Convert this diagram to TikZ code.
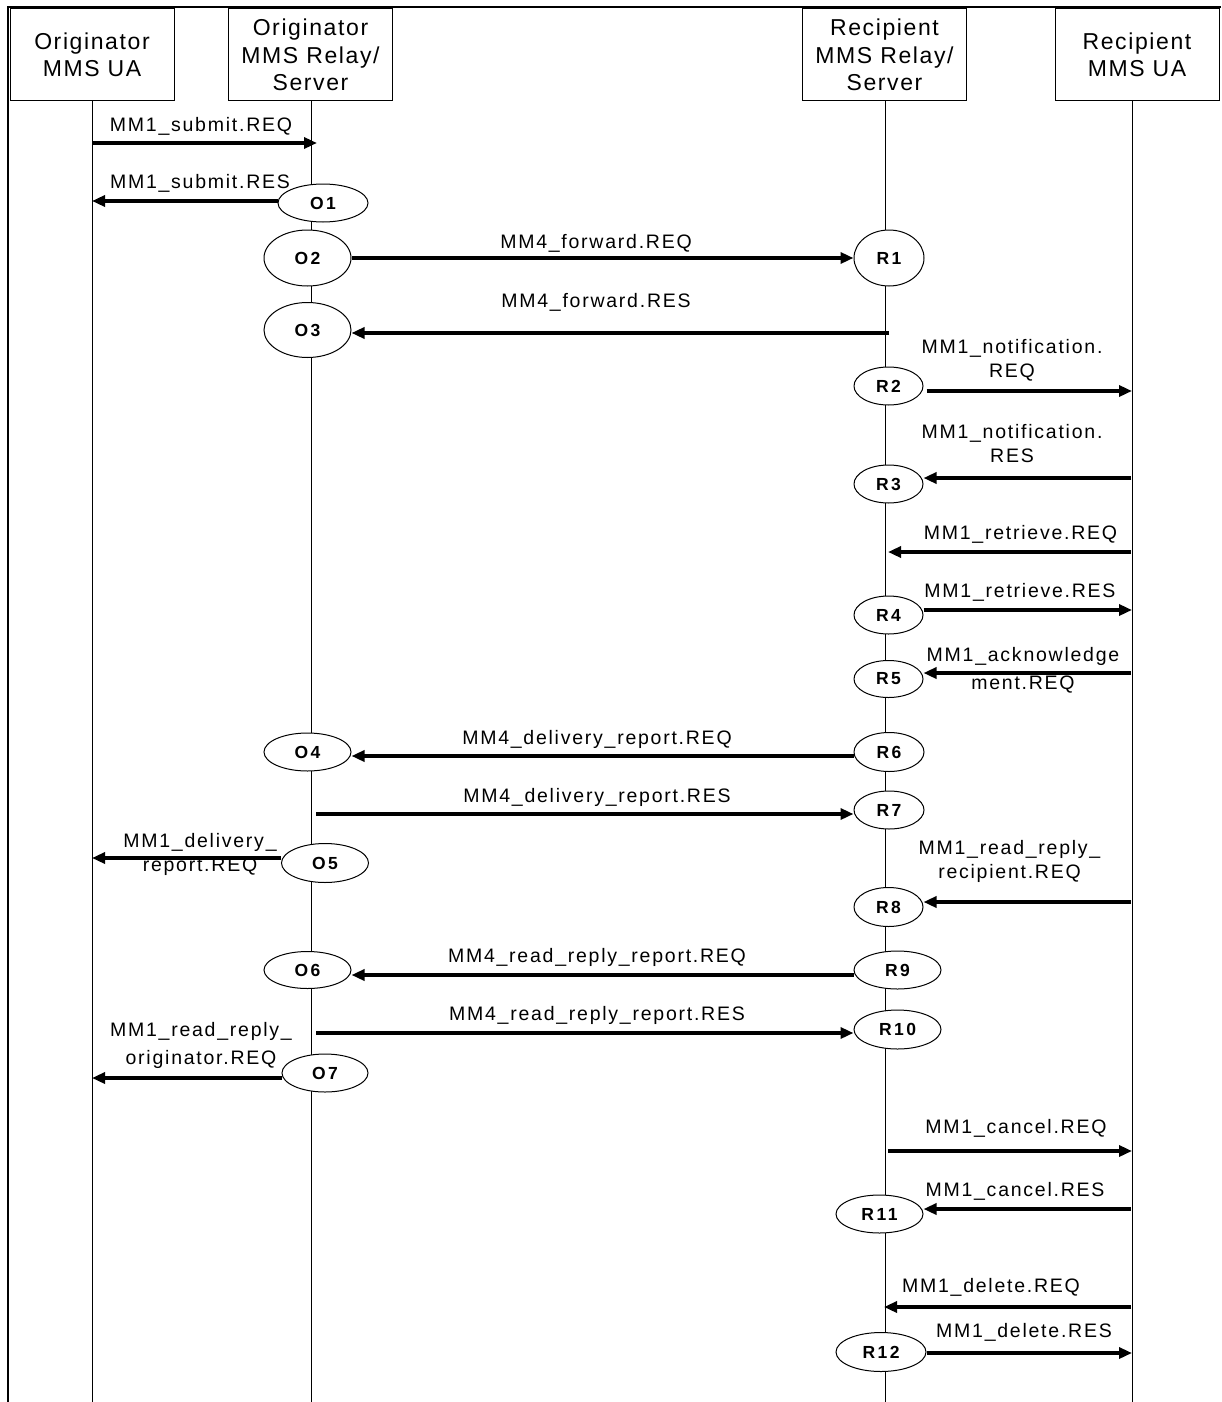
\documentclass[tikz,border=0pt]{standalone}
\usepackage{fontspec}
\setmainfont{Liberation Sans}
\newfontfamily\boxfont[LetterSpace=7]{Liberation Sans}
\newfontfamily\msgfont[LetterSpace=9]{Liberation Sans}
\newfontfamily\stfont[LetterSpace=14]{Liberation Sans}
\usetikzlibrary{arrows.meta,shapes.geometric}
\begin{document}
\begin{tikzpicture}[x=1pt,y=-1pt,
  entity/.style={draw,line width=1pt,minimum width=164pt,minimum height=92pt,align=center,inner sep=0pt,font=\boxfont\fontsize{23}{27.5}\selectfont},
  life/.style={line width=1pt},
  st/.style={ellipse,draw,fill=white,line width=1pt,inner sep=0pt,font=\stfont\bfseries\fontsize{17.5}{18}\selectfont},
  msg/.style={line width=3.8pt,-{Triangle[length=13pt,width=11pt]}},
  lbl/.style={inner sep=0pt,align=center,font=\msgfont\fontsize{19.5}{24}\selectfont},
]
\useasboundingbox (0,0) rectangle (1221,1402);
% frame
\draw[line width=2.3pt] (1221,7) -- (8,7) -- (8,1402);
% entities
\node[entity] (B1) at (92,55) {Originator\\MMS UA};
\node[entity] (B2) at (310.5,55) {Originator\\MMS Relay/\\Server};
\node[entity] (B3) at (884.5,55) {Recipient\\MMS Relay/\\Server};
\node[entity] (B4) at (1137,55) {Recipient\\MMS UA};
% lifelines
\coordinate (L1) at (92,101);
\coordinate (L2) at (311,101);
\coordinate (L3) at (885,101);
\coordinate (L4) at (1132,101);
\coordinate (bot) at (0,1402);
\draw[life] (L1) -- (L1 |- bot);
\draw[life] (L2) -- (L2 |- bot);
\draw[life] (L3) -- (L3 |- bot);
\draw[life] (L4) -- (L4 |- bot);
% states
\node[st,minimum width=90pt,minimum height=38pt] (O1) at (323,203) {O1};
\node[st,minimum width=87pt,minimum height=56pt] (O2) at (307.5,258) {O2};
\node[st,minimum width=87pt,minimum height=55pt] (O3) at (307.5,330) {O3};
\node[st,minimum width=87pt,minimum height=38pt] (O4) at (307.5,752) {O4};
\node[st,minimum width=87pt,minimum height=39pt] (O5) at (325,863) {O5};
\node[st,minimum width=87pt,minimum height=37pt] (O6) at (307.5,970) {O6};
\node[st,minimum width=86pt,minimum height=38pt] (O7) at (325,1073) {O7};
\node[st,minimum width=70pt,minimum height=56pt] (R1) at (889,258) {R1};
\node[st,minimum width=69pt,minimum height=38pt] (R2) at (888.5,386) {R2};
\node[st,minimum width=69pt,minimum height=38pt] (R3) at (888.5,484) {R3};
\node[st,minimum width=69pt,minimum height=38pt] (R4) at (888.5,615) {R4};
\node[st,minimum width=69pt,minimum height=37pt] (R5) at (888.5,679) {R5};
\node[st,minimum width=70pt,minimum height=39pt] (R6) at (889,752) {R6};
\node[st,minimum width=70pt,minimum height=38pt] (R7) at (889,810) {R7};
\node[st,minimum width=69pt,minimum height=39pt] (R8) at (888.5,907) {R8};
\node[st,minimum width=87pt,minimum height=38pt] (R9) at (897.5,970) {R9};
\node[st,minimum width=87pt,minimum height=39pt] (R10) at (897.5,1029.5) {R10};
\node[st,minimum width=87pt,minimum height=38pt] (R11) at (879.5,1214) {R11};
\node[st,minimum width=90pt,minimum height=39pt] (R12) at (881,1352) {R12};
% message coordinates
\coordinate (y1a) at (92,143);  \coordinate (y1b) at (317,143);
\coordinate (y2) at (92,201);
\coordinate (y4) at (889,333);
\coordinate (y5) at (1132,391);
\coordinate (y6) at (1131,478);
\coordinate (y7a) at (1131,552); \coordinate (y7b) at (888,552);
\coordinate (y8) at (1132,610);
\coordinate (y9) at (1131,673);
\coordinate (y10) at (0,756);
\coordinate (y11) at (316,814);
\coordinate (y12) at (92,858);
\coordinate (y13) at (1131,902);
\coordinate (y14) at (0,975);
\coordinate (y15) at (316,1033);
\coordinate (y16) at (92,1078);
\coordinate (y17a) at (888,1151); \coordinate (y17b) at (1132,1151);
\coordinate (y18) at (1131,1209);
\coordinate (y19a) at (1131,1307); \coordinate (y19b) at (884,1307);
\coordinate (y20) at (1132,1353);
% messages
\draw[msg] (y1a) -- (y1b);
\draw[msg] (O1.west |- y2) -- (y2);
\draw[msg] (O2.east) -- (R1.west);
\draw[msg] (y4) -- (y4 -| O3.east);
\draw[msg] ([xshift=3pt]R2.east |- y5) -- (y5);
\draw[msg] (y6) -- (y6 -| R3.east);
\draw[msg] (y7a) -- (y7b);
\draw[msg] (y8 -| R4.east) -- (y8);
\draw[msg] (y9) -- (y9 -| R5.east);
\draw[msg] (R6.west |- y10) -- (O4.east |- y10);
\draw[msg] (y11) -- (y11 -| R7.west);
\draw[msg] (y12 -| O5.west) -- (y12);
\draw[msg] (y13) -- (y13 -| R8.east);
\draw[msg] (R9.west |- y14) -- (O6.east |- y14);
\draw[msg] (y15) -- (y15 -| R10.west);
\draw[msg] (y16 -| O7.west) -- (y16);
\draw[msg] (y17a) -- (y17b);
\draw[msg] (y18) -- (y18 -| R11.east);
\draw[msg] (y19a) -- (y19b);
\draw[msg] (y20 -| R12.east) -- (y20);
% labels
\node[lbl] (t1) at (201,126) {MM1\_submit.REQ};
\node[lbl] (t2) at (200,183) {MM1\_submit.RES};
\node[lbl] (t3) at (596,243) {MM4\_forward.REQ};
\node[lbl] (t4) at (596,302) {MM4\_forward.RES};
\node[lbl] (t5) at (1012,360.5) {MM1\_notification.\\REQ};
\node[lbl] (t6) at (1012,443.5) {MM1\_notification.\\RES};
\node[lbl] (t7) at (1020.5,534) {MM1\_retrieve.REQ};
\node[lbl] (t8) at (1020,592) {MM1\_retrieve.RES};
\node[lbl] (t9) at (1023,670.5) {MM1\_acknowledge\\[4pt]ment.REQ};
\node[lbl] (t10) at (597,739) {MM4\_delivery\_report.REQ};
\node[lbl] (t11) at (597,797) {MM4\_delivery\_report.RES};
\node[lbl] (t12) at (200,854) {MM1\_delivery\_\\report.REQ};
\node[lbl] (t13) at (1009.5,861.5) {MM1\_read\_reply\_\\recipient.REQ};
\node[lbl] (t14) at (597,957) {MM4\_read\_reply\_report.REQ};
\node[lbl] (t15) at (597,1015) {MM4\_read\_reply\_report.RES};
\node[lbl] (t16) at (201,1045.5) {MM1\_read\_reply\_\\[4pt]originator.REQ};
\node[lbl] (t17) at (1016,1128) {MM1\_cancel.REQ};
\node[lbl] (t18) at (1015,1191) {MM1\_cancel.RES};
\node[lbl] (t19) at (991,1287) {MM1\_delete.REQ};
\node[lbl] (t20) at (1024,1332) {MM1\_delete.RES};
\end{tikzpicture}
\end{document}
